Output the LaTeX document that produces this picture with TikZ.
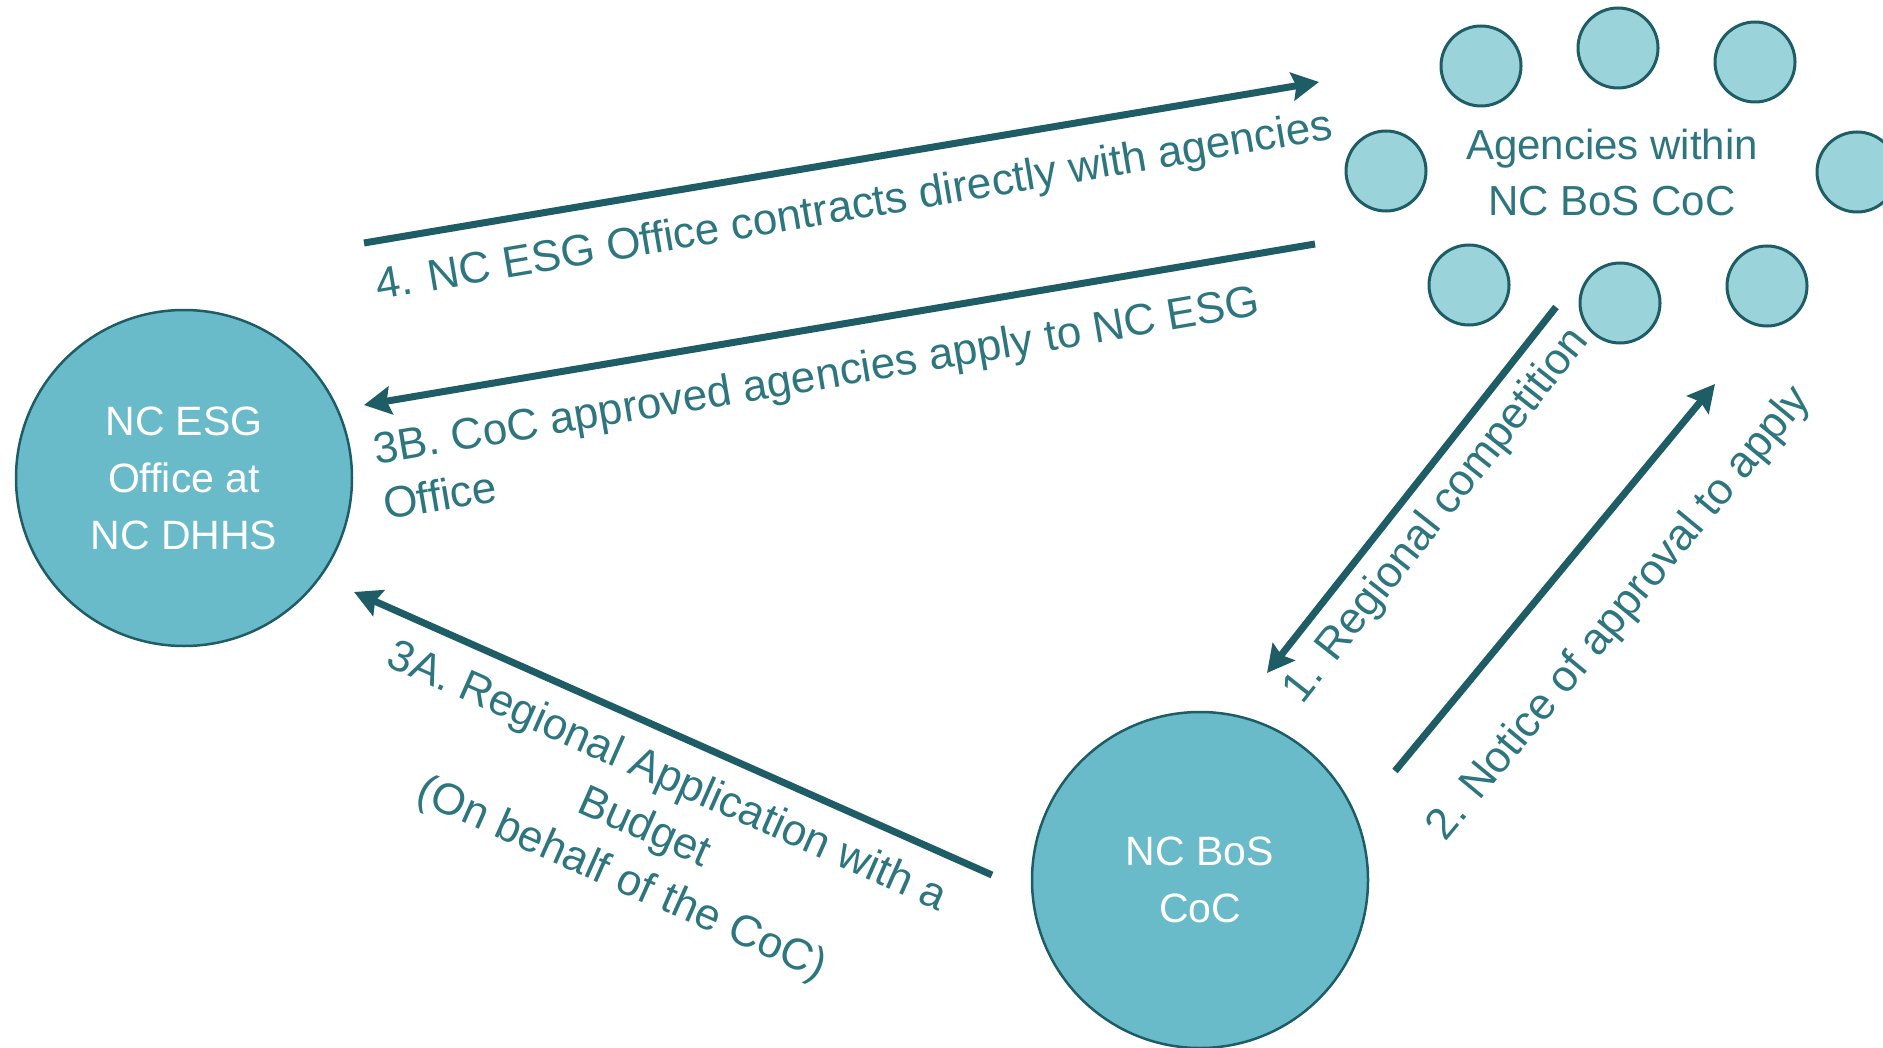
\documentclass[tikz,border=0pt]{standalone}
\usepackage{fontspec}
\setmainfont{Liberation Sans}
\usetikzlibrary{arrows.meta,math}

\definecolor{arrowteal}{RGB}{31,93,102}
\definecolor{labelteal}{RGB}{45,117,127}
\definecolor{discfill}{RGB}{106,187,201}
\definecolor{dotfill}{RGB}{155,211,219}

\begin{document}
\begin{tikzpicture}[x=0.5pt,y=-0.5pt,>={Stealth[length=13.5pt,width=14pt,inset=2pt]},
	flow/.style={->,color=arrowteal,line width=3.5pt},
	bigdisc/.style={circle,draw=arrowteal,line width=1.25pt,fill=discfill,
		minimum size=168pt,inner sep=0pt,text=white,align=center,
		font=\fontsize{20.5}{28.5}\selectfont},
	agency/.style={circle,draw=arrowteal,line width=1.5pt,fill=dotfill,
		minimum size=40pt,inner sep=0pt},
	steplabel/.style={text=labelteal,inner sep=0pt,
		font=\fontsize{22}{28}\selectfont}]

\tikzmath{
	real	\aFour, \aThreeB, \aThreeA;
	\aFour = atan(161/955);
	\aThreeB = atan(161/951);
	\aThreeA = atan(283/638);
	real	\aOne, \aTwo;
	\aOne = atan(366/289);
	\aTwo = atan(387/320);
}

\useasboundingbox (0,0) rectangle (1883,1048);

\node (esg) at (184,478) [bigdisc] {NC ESG\\Office at\\NC DHHS};
\node (bos) at (1200,880) [bigdisc] {NC BoS\\CoC};

% ring of agencies
\foreach \p [count=\i] in {(1481,66),(1618,48),(1755,62),(1386,171),
	(1857,172),(1469,285),(1620,303),(1767,286)}
	\node (ag\i) at \p [agency] {};

\node (agtext) at (1612,172) [text=labelteal,align=center,
	font=\fontsize{21}{28}\selectfont] {Agencies within\\NC BoS CoC};

\coordinate (s4) at (364,243);	\coordinate (e4) at (1319,82);
\coordinate (s3b) at (1315,244);	\coordinate (e3b) at (364,405);
\coordinate (s3a) at (992,875);	\coordinate (e3a) at (354,592);
\coordinate (s1) at (1556,307);	\coordinate (e1) at (1267,673);
\coordinate (s2) at (1395,771);	\coordinate (e2) at (1715,384);

\draw[flow] (s4)--(e4);
\draw[flow] (s3b)--(e3b);
\draw[flow] (s3a)--(e3a);
\draw[flow] (s1)--(e1);
\draw[flow] (s2)--(e2);

\node (l4) at (378,300) [steplabel,anchor=base west,rotate=\aFour]
	{4. NC ESG Office contracts directly with agencies};
\node (l3b) at (371,433) [steplabel,anchor=north west,align=left,rotate=\aThreeB]
	{3B. CoC approved agencies apply to NC ESG\\Office};
\node (l3a) at (644,829) [steplabel,align=center,rotate=-\aThreeA]
	{3A. Regional Application with a\\Budget\\(On behalf of the CoC)};
\node (l1) at (1437,516) [steplabel,rotate=\aOne] {1. Regional competition};
\node (l2) at (1620,614) [steplabel,rotate=\aTwo] {2. Notice of approval to apply};

\end{tikzpicture}
\end{document}
